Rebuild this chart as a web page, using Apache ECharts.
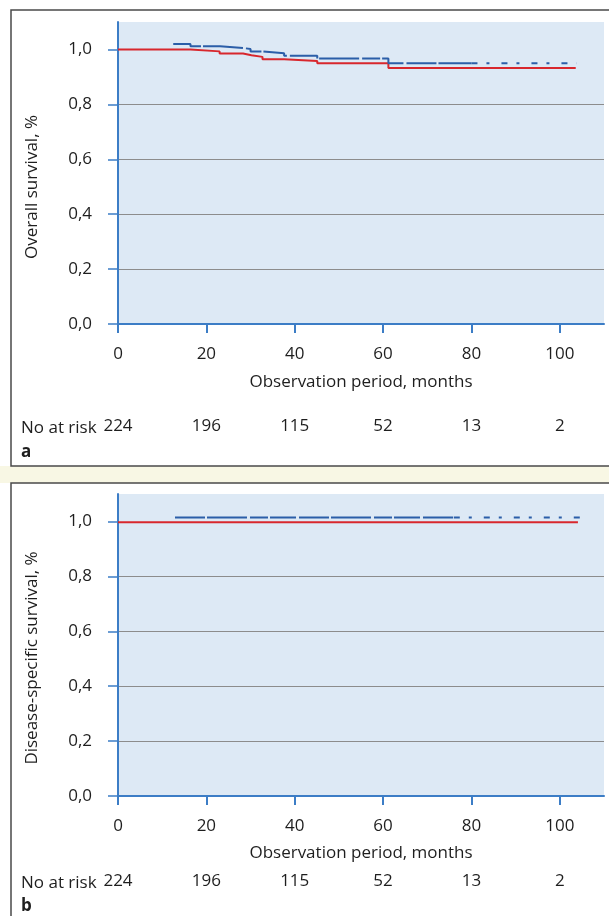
<!DOCTYPE html>
<html>
<head>
<meta charset="utf-8">
<script src="https://cdn.jsdelivr.net/npm/echarts@6/dist/echarts.min.js"></script>
<style>
html,body{margin:0;padding:0;background:#fff;}
#c{width:609px;height:916px;}
</style>
</head>
<body>
<div id="c"></div>
<script>
// ---- data ----
const xTicks = [0, 20, 40, 60, 80, 100];
const yTicks = [0, 0.2, 0.4, 0.6, 0.8, 1.0];
const atRisk = [224, 196, 115, 52, 13, 2];

// Panel a: overall survival (step points: time in months, survival)
const osRedT  = [0, 16.4, 23.0, 28.3, 30.2, 32.7, 37.6, 45.1, 61.2, 103.6];
const osRedS  = [1.0, 0.993, 0.985, 0.979, 0.973, 0.964, 0.958, 0.950, 0.932, 0.932];
const osBlueT = [12.5, 16.4, 23.1, 28.4, 30.0, 32.7, 37.6, 45.1, 61.2, 103.8];
const osBlueS = [1.02, 1.012, 1.005, 1.002, 0.993, 0.986, 0.977, 0.967, 0.950, 0.950];

// Panel b: disease-specific survival
const dssRedT  = [0, 104.1];
const dssRedS  = [0.997, 0.997];
const dssBlueT = [12.9, 104.9];
const dssBlueS = [1.014, 1.014];

// time after which censor marks become sparse
const osSparseFrom = 80;
const dssSparseFrom = 76;

const labelA = 'Overall survival, %';
const labelB = 'Disease-specific survival, %';
const xName = 'Observation period, months';

// ---- helpers ----
function pairs(T, S) { return T.map((t, i) => [t, S[i]]); }
function splitAt(T, S, cut) {
  const dense = [], sparse = [];
  let lastS = S[0];
  for (let i = 0; i < T.length; i++) {
    if (T[i] <= cut) { dense.push([T[i], S[i]]); lastS = S[i]; }
  }
  dense.push([cut, lastS]);
  sparse.push([cut, lastS]);
  for (let i = 0; i < T.length; i++) {
    if (T[i] > cut) sparse.push([T[i], S[i]]);
  }
  return [dense, sparse];
}

const FONT = '"Open Sans"';
const FS = 17;
const TXT = '#1e1e1e';
const AXIS_BLUE = '#3c7dc6';
const RED = '#d8272d';
const BLUE = '#2b5ea8';
const fmt = v => v.toFixed(1).replace('.', ',');

function grids() {
  return [
    {left: 118, top: 22, width: 486, height: 302, show: true, backgroundColor: '#dde9f5', borderWidth: 0},
    {left: 118, top: 494, width: 486, height: 302, show: true, backgroundColor: '#dde9f5', borderWidth: 0}
  ];
}

function mainX(gi, gap) {
  return {
    type: 'value', gridIndex: gi, min: 0, max: 110,
    name: xName, nameLocation: 'middle', nameGap: gap,
    nameTextStyle: {fontFamily: FONT, fontSize: FS, color: TXT},
    axisLine: {show: true, onZero: false, lineStyle: {color: AXIS_BLUE, width: 2}},
    axisTick: {show: true, length: 9, customValues: xTicks, lineStyle: {color: AXIS_BLUE, width: 2}},
    axisLabel: {customValues: xTicks, margin: 22, fontFamily: FONT, fontSize: FS, color: TXT},
    splitLine: {show: false}
  };
}
function riskX(gi, margin) {
  return {
    type: 'value', gridIndex: gi, min: 0, max: 110, position: 'bottom',
    axisLine: {show: false}, axisTick: {show: false}, splitLine: {show: false},
    axisLabel: {
      customValues: xTicks, margin: margin, fontFamily: FONT, fontSize: FS, color: TXT,
      formatter: v => String(atRisk[xTicks.indexOf(v)])
    }
  };
}
function mainY(gi) {
  return {
    type: 'value', gridIndex: gi, min: 0, max: 1.1, interval: 0.2,
    axisLine: {show: true, onZero: false, lineStyle: {color: AXIS_BLUE, width: 2}},
    axisTick: {show: true, length: 10, customValues: yTicks, lineStyle: {color: AXIS_BLUE, width: 1.5}},
    axisLabel: {customValues: yTicks, margin: 26, fontFamily: FONT, fontSize: FS, color: TXT, formatter: fmt},
    splitLine: {show: true, showMaxLine: false, lineStyle: {color: '#8c8c8c', width: 1}}
  };
}

function kmSeries(xi, yi, data, color, dash) {
  return {
    type: 'line', xAxisIndex: xi, yAxisIndex: yi, data: data, step: 'end',
    symbol: 'none', silent: true, animation: false,
    lineStyle: {color: color, width: 2, type: dash || 'solid'}
  };
}

const [osDense, osSparse] = splitAt(osBlueT, osBlueS, osSparseFrom);
const [dssDense, dssSparse] = splitAt(dssBlueT, dssBlueS, dssSparseFrom);
const denseDash = [30, 2, 40, 3, 18, 2, 26, 3];
const sparseDash = [6, 9, 3, 12];

const chart = echarts.init(document.getElementById('c'), null, {renderer: 'canvas'});
chart.setOption({
  animation: false,
  backgroundColor: '#ffffff',
  grid: grids(),
  xAxis: [mainX(0, 50), riskX(0, 94), mainX(1, 49), riskX(1, 77)],
  yAxis: [mainY(0), mainY(1)],
  series: [
    kmSeries(0, 0, pairs(osRedT, osRedS), RED),
    kmSeries(0, 0, osDense, BLUE, denseDash),
    kmSeries(0, 0, osSparse, BLUE, sparseDash),
    kmSeries(2, 1, pairs(dssRedT, dssRedS), RED),
    kmSeries(2, 1, dssDense, BLUE, denseDash),
    kmSeries(2, 1, dssSparse, BLUE, sparseDash)
  ],
  graphic: [
    {type: 'rect', z: -10, shape: {x: 0, y: 466, width: 609, height: 17}, style: {fill: '#f8f7e4'}},
    {type: 'rect', z: -5, shape: {x: 11, y: 10, width: 620, height: 456}, style: {fill: 'none', stroke: '#4a4a4a', lineWidth: 1.5}},
    {type: 'rect', z: -5, shape: {x: 11, y: 483, width: 620, height: 460}, style: {fill: 'none', stroke: '#4a4a4a', lineWidth: 1.5}},
    {type: 'text', x: 32, y: 187, rotation: Math.PI / 2,
     style: {text: labelA, textAlign: 'center', textVerticalAlign: 'middle', font: FS + 'px ' + FONT, fill: TXT}},
    {type: 'text', x: 32, y: 658, rotation: Math.PI / 2,
     style: {text: labelB, textAlign: 'center', textVerticalAlign: 'middle', font: FS + 'px ' + FONT, fill: TXT}},
    {type: 'text', x: 21, y: 428,
     style: {text: 'No at risk', textAlign: 'left', textVerticalAlign: 'middle', font: FS + 'px ' + FONT, fill: TXT}},
    {type: 'text', x: 21, y: 883,
     style: {text: 'No at risk', textAlign: 'left', textVerticalAlign: 'middle', font: FS + 'px ' + FONT, fill: TXT}},
    {type: 'text', x: 21, y: 452,
     style: {text: 'a', textAlign: 'left', textVerticalAlign: 'middle', font: 'bold ' + FS + 'px ' + FONT, fill: TXT}},
    {type: 'text', x: 21, y: 906,
     style: {text: 'b', textAlign: 'left', textVerticalAlign: 'middle', font: 'bold ' + FS + 'px ' + FONT, fill: TXT}}
  ]
});
</script>
</body>
</html>
